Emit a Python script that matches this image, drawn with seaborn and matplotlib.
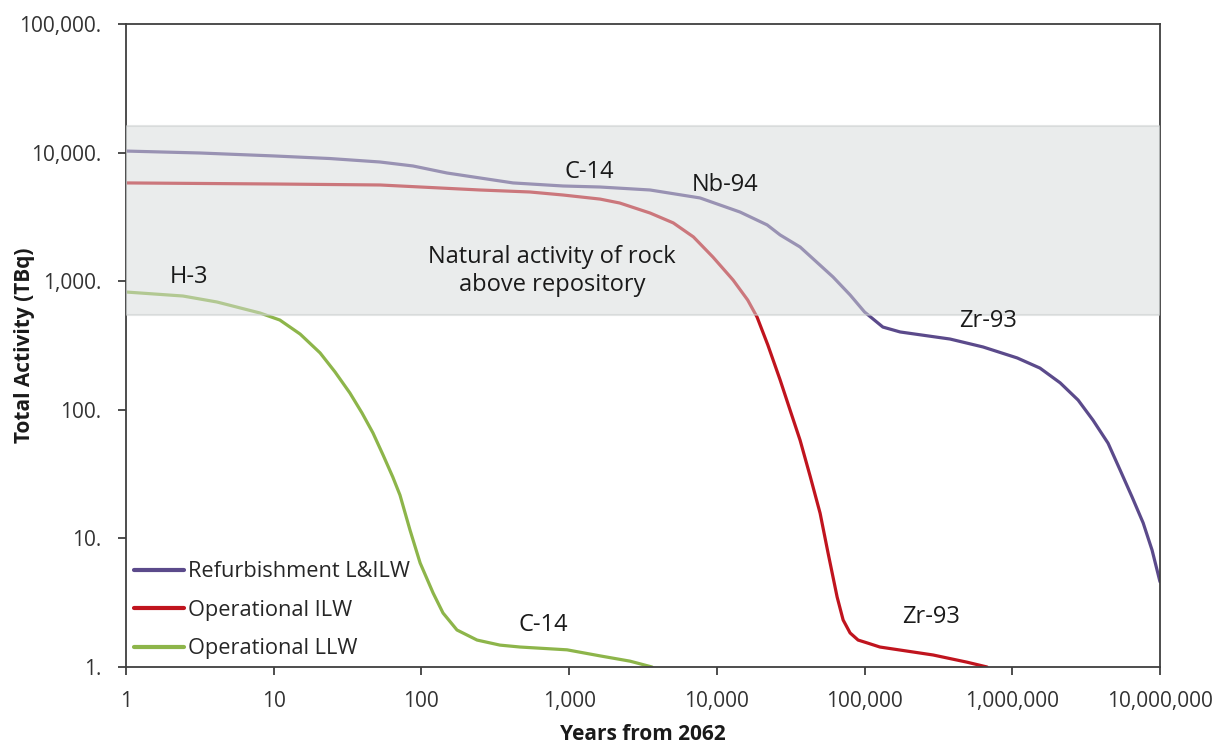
import numpy as np
import pandas as pd
import matplotlib
matplotlib.use("Agg")
import matplotlib.pyplot as plt
import seaborn as sns
from matplotlib.ticker import FixedLocator, FuncFormatter, NullLocator

# ---------------- data ----------------
series_names = ["Refurbishment L&ILW", "Operational ILW", "Operational LLW"]

refurb_years = [1, 3.17, 10, 24.1, 52.5, 87.7, 149, 249, 417, 909, 1620, 3530,
                7690, 14350, 21900, 26800, 36600, 61200, 79800, 100000, 133000,
                174000, 379000, 634000, 1080000, 1540000, 2110000, 2790000,
                3520000, 4450000, 5370000, 6470000, 7690000, 8840000, 10000000]
refurb_activity = [10280, 9930, 9420, 8990, 8450, 7870, 6940, 6350, 5810, 5500,
                   5400, 5120, 4440, 3450, 2740, 2290, 1845, 1078, 782, 576, 440,
                   403, 355, 308, 253, 211, 162, 119, 83, 55, 34, 21, 13.2, 8.1, 4.6]

op_ilw_years = [1, 10, 52.5, 249, 542, 909, 1620, 2200, 3530, 5070, 6940, 9410,
                12880, 16170, 18700, 22140, 26800, 31300, 36600, 42800, 50000,
                56600, 65200, 71600, 79800, 90400, 104000, 127000, 291000,
                494000, 675000]
op_ilw_activity = [5810, 5700, 5600, 5120, 4940, 4680, 4350, 4055, 3390, 2840,
                   2210, 1540, 1021, 714, 527, 319, 171, 99.6, 58, 30.5, 15.7,
                   7.7, 3.5, 2.32, 1.84, 1.62, 1.54, 1.43, 1.24, 1.09, 1.0]

op_llw_years = [1, 2.43, 4.13, 8.07, 11, 15.1, 20.6, 26, 32.8, 39.6, 47, 55, 64,
                71.6, 83.7, 98, 120, 140, 174, 238, 340, 465, 968, 1620, 2585, 3640]
op_llw_activity = [824, 767, 689, 566, 499, 388, 277, 197, 135, 94.5, 66, 44.5,
                   30, 21.7, 11.6, 6.44, 3.76, 2.63, 1.94, 1.62, 1.48, 1.43, 1.36,
                   1.22, 1.11, 1.0]

band_low, band_high = 550, 16000
band_text = "Natural activity of rock\nabove repository"

labels_text = ["H-3", "C-14", "Nb-94", "Zr-93", "Zr-93", "C-14"]
labels_x = [2.67, 1364, 11370, 686000, 282000, 666]
labels_y = [1079, 7060, 5600, 491, 2.45, 2.12]
band_text_xy = (766, 1200)

x_ticks = [1, 10, 100, 1000, 10000, 100000, 1000000, 10000000]
y_ticks = [1, 10, 100, 1000, 10000, 100000]

colors = ["#5B4A8B", "#C0141E", "#8DB54A"]

# ---------------- figure ----------------
sns.set_style("ticks")
plt.rcParams['font.family'] = ['Open Sans', 'DejaVu Sans']

fig = plt.figure(figsize=(12.17, 7.46), dpi=100)
ax = fig.add_axes([126 / 1217, 1 - 667 / 746, (1160 - 126) / 1217, (667 - 24) / 746])

df = pd.concat([
    pd.DataFrame({"years": refurb_years, "activity": refurb_activity, "series": series_names[0]}),
    pd.DataFrame({"years": op_ilw_years, "activity": op_ilw_activity, "series": series_names[1]}),
    pd.DataFrame({"years": op_llw_years, "activity": op_llw_activity, "series": series_names[2]}),
], ignore_index=True)

sns.lineplot(data=df, x="years", y="activity", hue="series",
             hue_order=series_names, palette=dict(zip(series_names, colors)),
             linewidth=2.3, estimator=None, sort=False, ax=ax, zorder=2)

ax.set_xscale("log")
ax.set_yscale("log")
ax.set_xlim(1, 1e7)
ax.set_ylim(1, 1e5)

# natural activity band drawn over the lines
ax.axhspan(band_low, band_high, facecolor=(215 / 255, 219 / 255, 219 / 255),
           edgecolor=(200 / 255, 204 / 255, 204 / 255), linewidth=1.5,
           alpha=0.5, zorder=3)

ax.xaxis.set_major_locator(FixedLocator(x_ticks))
ax.yaxis.set_major_locator(FixedLocator(y_ticks))
ax.xaxis.set_minor_locator(NullLocator())
ax.yaxis.set_minor_locator(NullLocator())
ax.xaxis.set_major_formatter(FuncFormatter(lambda v, p: f"{int(round(v)):,}"))
ax.yaxis.set_major_formatter(FuncFormatter(lambda v, p: f"{int(round(v)):,}."))

for s in ax.spines.values():
    s.set_visible(True)
    s.set_color("#3F3F3F")
    s.set_linewidth(1.3)

ax.tick_params(axis="both", which="major", direction="out", length=6,
               width=1.3, color="#3F3F3F", labelsize=15, labelcolor="#333333")
ax.tick_params(axis="y", pad=12)
ax.tick_params(axis="x", pad=11)

ax.set_xlabel("Years from 2062", fontsize=15, fontweight="bold", color="#1a1a1a")
ax.set_ylabel("Total Activity (TBq)", fontsize=15, fontweight="bold", color="#1a1a1a")
ax.xaxis.set_label_coords(0.5, -0.088)
ax.yaxis.set_label_coords(-0.088, 0.5)

for t, x, y in zip(labels_text, labels_x, labels_y):
    ax.text(x, y, t, fontsize=17, ha="center", va="center", color="#1a1a1a", zorder=5)
ax.text(band_text_xy[0], band_text_xy[1], band_text, fontsize=17, ha="center",
        va="center", color="#1a1a1a", linespacing=1.25, zorder=5)

leg = ax.legend(loc="lower left", bbox_to_anchor=(0.0, 0.0), frameon=False,
                fontsize=15.7, handlelength=2.3, handletextpad=0.2,
                labelspacing=0.8, borderaxespad=0.15, borderpad=0.2)
for line in leg.get_lines():
    line.set_linewidth(3)
for txt in leg.get_texts():
    txt.set_color("#262626")

fig.savefig("out.png", dpi=100, facecolor="white")
